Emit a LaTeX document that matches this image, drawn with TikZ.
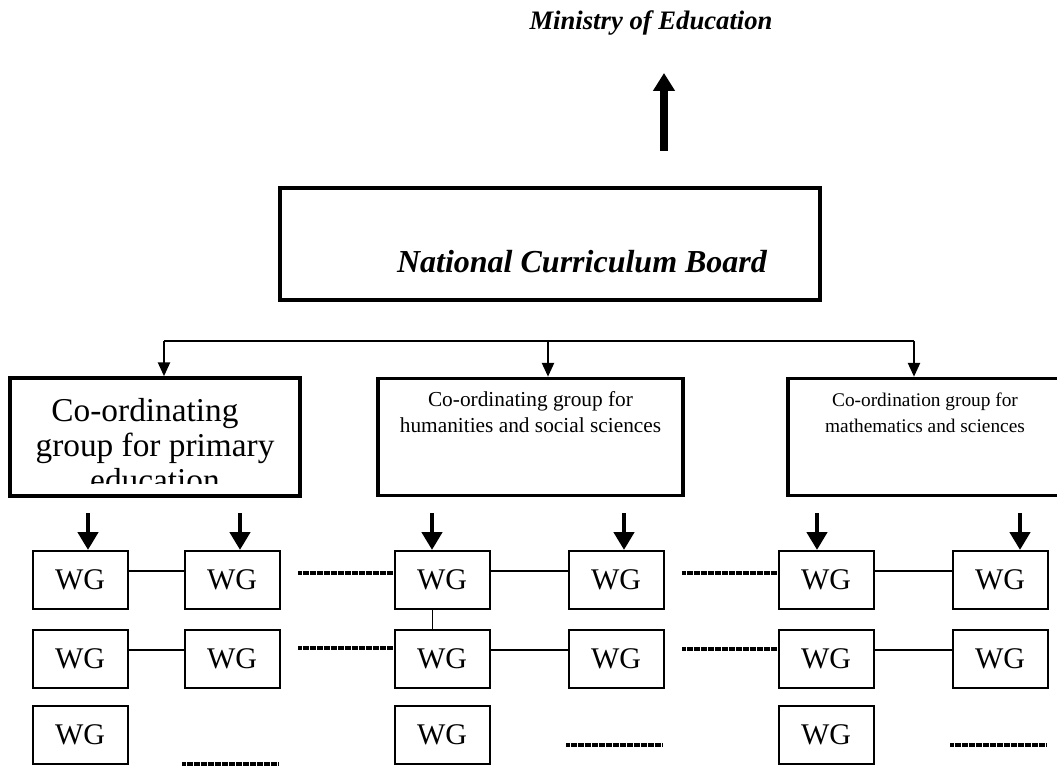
\documentclass[tikz,border=0pt]{standalone}
\usepackage{fontspec}
\setmainfont{Liberation Serif}
\usetikzlibrary{arrows.meta}

\begin{document}
\begin{tikzpicture}[x=0.75pt,y=-0.75pt,
    wg/.style={draw, line width=1.5pt, minimum width=71.25pt, minimum height=43.5pt, inner sep=0pt, font=\fontsize{22.5}{27}\selectfont},
    cobox/.style={draw, line width=2.6pt, inner sep=0pt},
    link/.style={line width=1.1pt},
    dots/.style={line width=2.6pt, dash pattern=on 1.4pt off 0.35pt},
    down/.style={line width=3.5pt, -{Triangle[length=13.5pt,width=15pt]}},
    branch/.style={line width=1.9pt, -{Triangle[length=10.5pt,width=9pt]}}]
    \clip (0,0) rectangle (1057,766);

    \node[anchor=base, font=\fontsize{20}{24}\selectfont\bfseries\itshape] (moe) at (651,30) {Ministry of Education};
    \coordinate (upfoot) at (664,151);
    \coordinate (uptip) at (664,73);
    \draw[line width=6pt, -{Triangle[length=13.5pt,width=15.75pt]}] (upfoot) -- (uptip);

    \node[cobox, minimum width=405pt, minimum height=84pt] (ncb) at (550,244) {};
    \node[anchor=base, font=\fontsize{24}{28}\selectfont\bfseries\itshape] (ncbname) at (582,273) {National Curriculum Board};

    \begin{scope}
        \clip (10,378) rectangle (300,484);
        \node[anchor=base, align=center, font=\fontsize{25}{26.25}\selectfont] (cp1name) at (155,492) {Co-ordinating\hspace*{0.6em}\\group for primary\\education};
    \end{scope}
    \node[cobox, minimum width=217.5pt, minimum height=88.5pt] (cp1) at (155,437) {};
    \node[cobox, minimum width=228.75pt, minimum height=87.75pt] (cp2) at (530.5,437) {};
    \node[anchor=base, align=center, font=\fontsize{16}{19.5}\selectfont] (cp2name) at (530.5,433) {Co-ordinating group for\\humanities and social sciences};
    \node[cobox, minimum width=205.5pt, minimum height=87.75pt] (cp3) at (925,437) {};
    \node[anchor=base, align=center, font=\fontsize{14.5}{19.5}\selectfont] (cp3name) at (925,433) {Co-ordination group for\\mathematics and sciences};

    \coordinate (barL) at (164,341);
    \coordinate (barM) at (548,341);
    \coordinate (barR) at (914,341);
    \draw[line width=1.5pt] (barL) -- (barR);
    \draw[branch] (barL) -- (barL |- cp1.north);
    \draw[branch] (barM) -- (barM |- cp2.north);
    \draw[branch] (barR) -- (barR |- cp3.north);

    \foreach \n/\x/\y in {a1/80/580, b1/232/580, c1/442/580, d1/616/580, e1/826/580, f1/1000/580,
                          a2/80/659, b2/232/659, c2/442/659, d2/616/659, e2/826/659, f2/1000/659,
                          a3/80/735, c3/442/735, e3/826/735}
        \node[wg] (\n) at (\x,\y) {WG};

    \foreach \n/\x in {a1/88, b1/240, c1/432, d1/624, e1/817, f1/1020}{
        \coordinate (top\n) at (\x,513);
        \draw[down] (top\n) -- (top\n |- \n.north);
    }

    \foreach \p/\q in {a1/b1, c1/d1, e1/f1, a2/b2, c2/d2, e2/f2}
        \draw[link] ([yshift=6.75pt]\p.east) -- ([yshift=6.75pt]\q.west);
    \draw[link] ([xshift=-7pt]c1.south) -- ([xshift=-7pt]c2.north);

    \coordinate (gap1) at (298,573);
    \coordinate (gap2) at (298,648);
    \coordinate (gap3) at (682,573);
    \coordinate (gap4) at (682,649);
    \draw[dots] (gap1) -- (gap1 -| c1.west);
    \draw[dots] (gap2) -- (gap2 -| c2.west);
    \draw[dots] (gap3) -- (gap3 -| e1.west);
    \draw[dots] (gap4) -- (gap4 -| e2.west);

    \coordinate (blank1) at (182,764);
    \coordinate (blank2) at (566,745);
    \coordinate (blank3) at (950,745);
    \draw[dots] (blank1) -- +(96,0);
    \draw[dots] (blank2) -- +(96,0);
    \draw[dots] (blank3) -- +(96,0);
\end{tikzpicture}
\end{document}
